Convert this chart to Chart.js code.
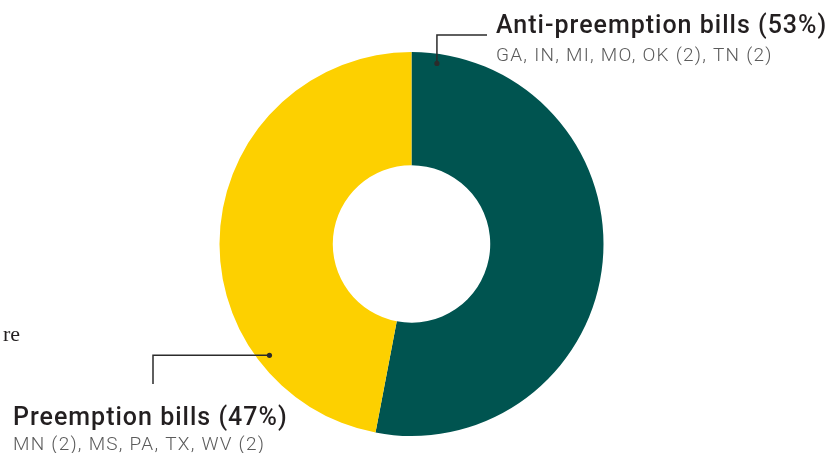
<!DOCTYPE html>
<html>
<head>
<meta charset="utf-8">
<script src="https://cdn.jsdelivr.net/npm/chart.js@4/dist/chart.umd.min.js"></script>
<style>
  html, body { margin: 0; padding: 0; background: #fff; }
  #wrap { width: 840px; height: 453px; position: relative; }
</style>
</head>
<body>
<div id="wrap"><canvas id="billsDonut"></canvas></div>
<script>
// Bill categories and their shares
const categories = ['Anti-preemption bills', 'Preemption bills'];
const shares = [53, 47];
const states = ['GA, IN, MI, MO, OK (2), TN (2)', 'MN (2), MS, PA, TX, WV (2)'];
const sliceColors = ['#005450', '#fdd000'];

// Callout placement: where the dot sits inside the slice, and where the text goes
const callouts = [
  { angleFrac: 0.042, radiusFrac: 0.95, elbowY: 35, lineEndX: 487, textX: 496, titleY: 33, subY: 61 },
  { angleFrac: 0.243, radiusFrac: 0.94, elbowX: 153, lineEndY: 384, textX: 13, titleY: 425, subY: 450 },
];

const calloutPlugin = {
  id: 'callouts',
  afterDraw(chart) {
    const ctx = chart.ctx;
    const arcs = chart.getDatasetMeta(0).data;
    ctx.save();
    arcs.forEach((arc, i) => {
      const c = callouts[i];
      const a = arc.startAngle + (arc.endAngle - arc.startAngle) * c.angleFrac;
      const r = arc.outerRadius * c.radiusFrac;
      const dx = arc.x + Math.cos(a) * r;
      const dy = arc.y + Math.sin(a) * r;

      ctx.strokeStyle = '#2b2b2b';
      ctx.lineWidth = 1.5;
      ctx.beginPath();
      if (i === 0) {
        ctx.moveTo(dx, dy);
        ctx.lineTo(dx, c.elbowY);
        ctx.lineTo(c.lineEndX, c.elbowY);
      } else {
        ctx.moveTo(dx, dy);
        ctx.lineTo(c.elbowX, dy);
        ctx.lineTo(c.elbowX, c.lineEndY);
      }
      ctx.stroke();

      ctx.fillStyle = '#2b2b2b';
      ctx.beginPath();
      ctx.arc(dx, dy, 2.6, 0, Math.PI * 2);
      ctx.fill();

      ctx.textAlign = 'left';
      ctx.textBaseline = 'alphabetic';
      ctx.fillStyle = '#231f20';
      ctx.font = '500 25px Roboto';
      ctx.letterSpacing = '1px';
      ctx.fillText(`${categories[i]} (${shares[i]}%)`, c.textX, c.titleY);
      ctx.fillStyle = '#5b5b5b';
      ctx.font = '300 19px Roboto';
      ctx.letterSpacing = '1.25px';
      ctx.fillText(states[i], c.textX, c.subY);
      ctx.letterSpacing = '0px';
    });

    // fragment of running text at the left edge
    ctx.fillStyle = '#231f20';
    ctx.font = '22px "Liberation Serif"';
    ctx.textAlign = 'right';
    ctx.fillText('re', 20, 341);
    ctx.restore();
  },
};

new Chart(document.getElementById('billsDonut'), {
  type: 'doughnut',
  data: {
    labels: categories,
    datasets: [{
      data: shares,
      backgroundColor: sliceColors,
      borderWidth: 0,
    }],
  },
  options: {
    responsive: true,
    maintainAspectRatio: false,
    animation: false,
    cutout: '41%',
    layout: { padding: { left: 219, right: 236, top: 52, bottom: 17 } },
    plugins: {
      legend: { display: false },
      tooltip: { enabled: false },
    },
  },
  plugins: [calloutPlugin],
});
</script>
</body>
</html>
